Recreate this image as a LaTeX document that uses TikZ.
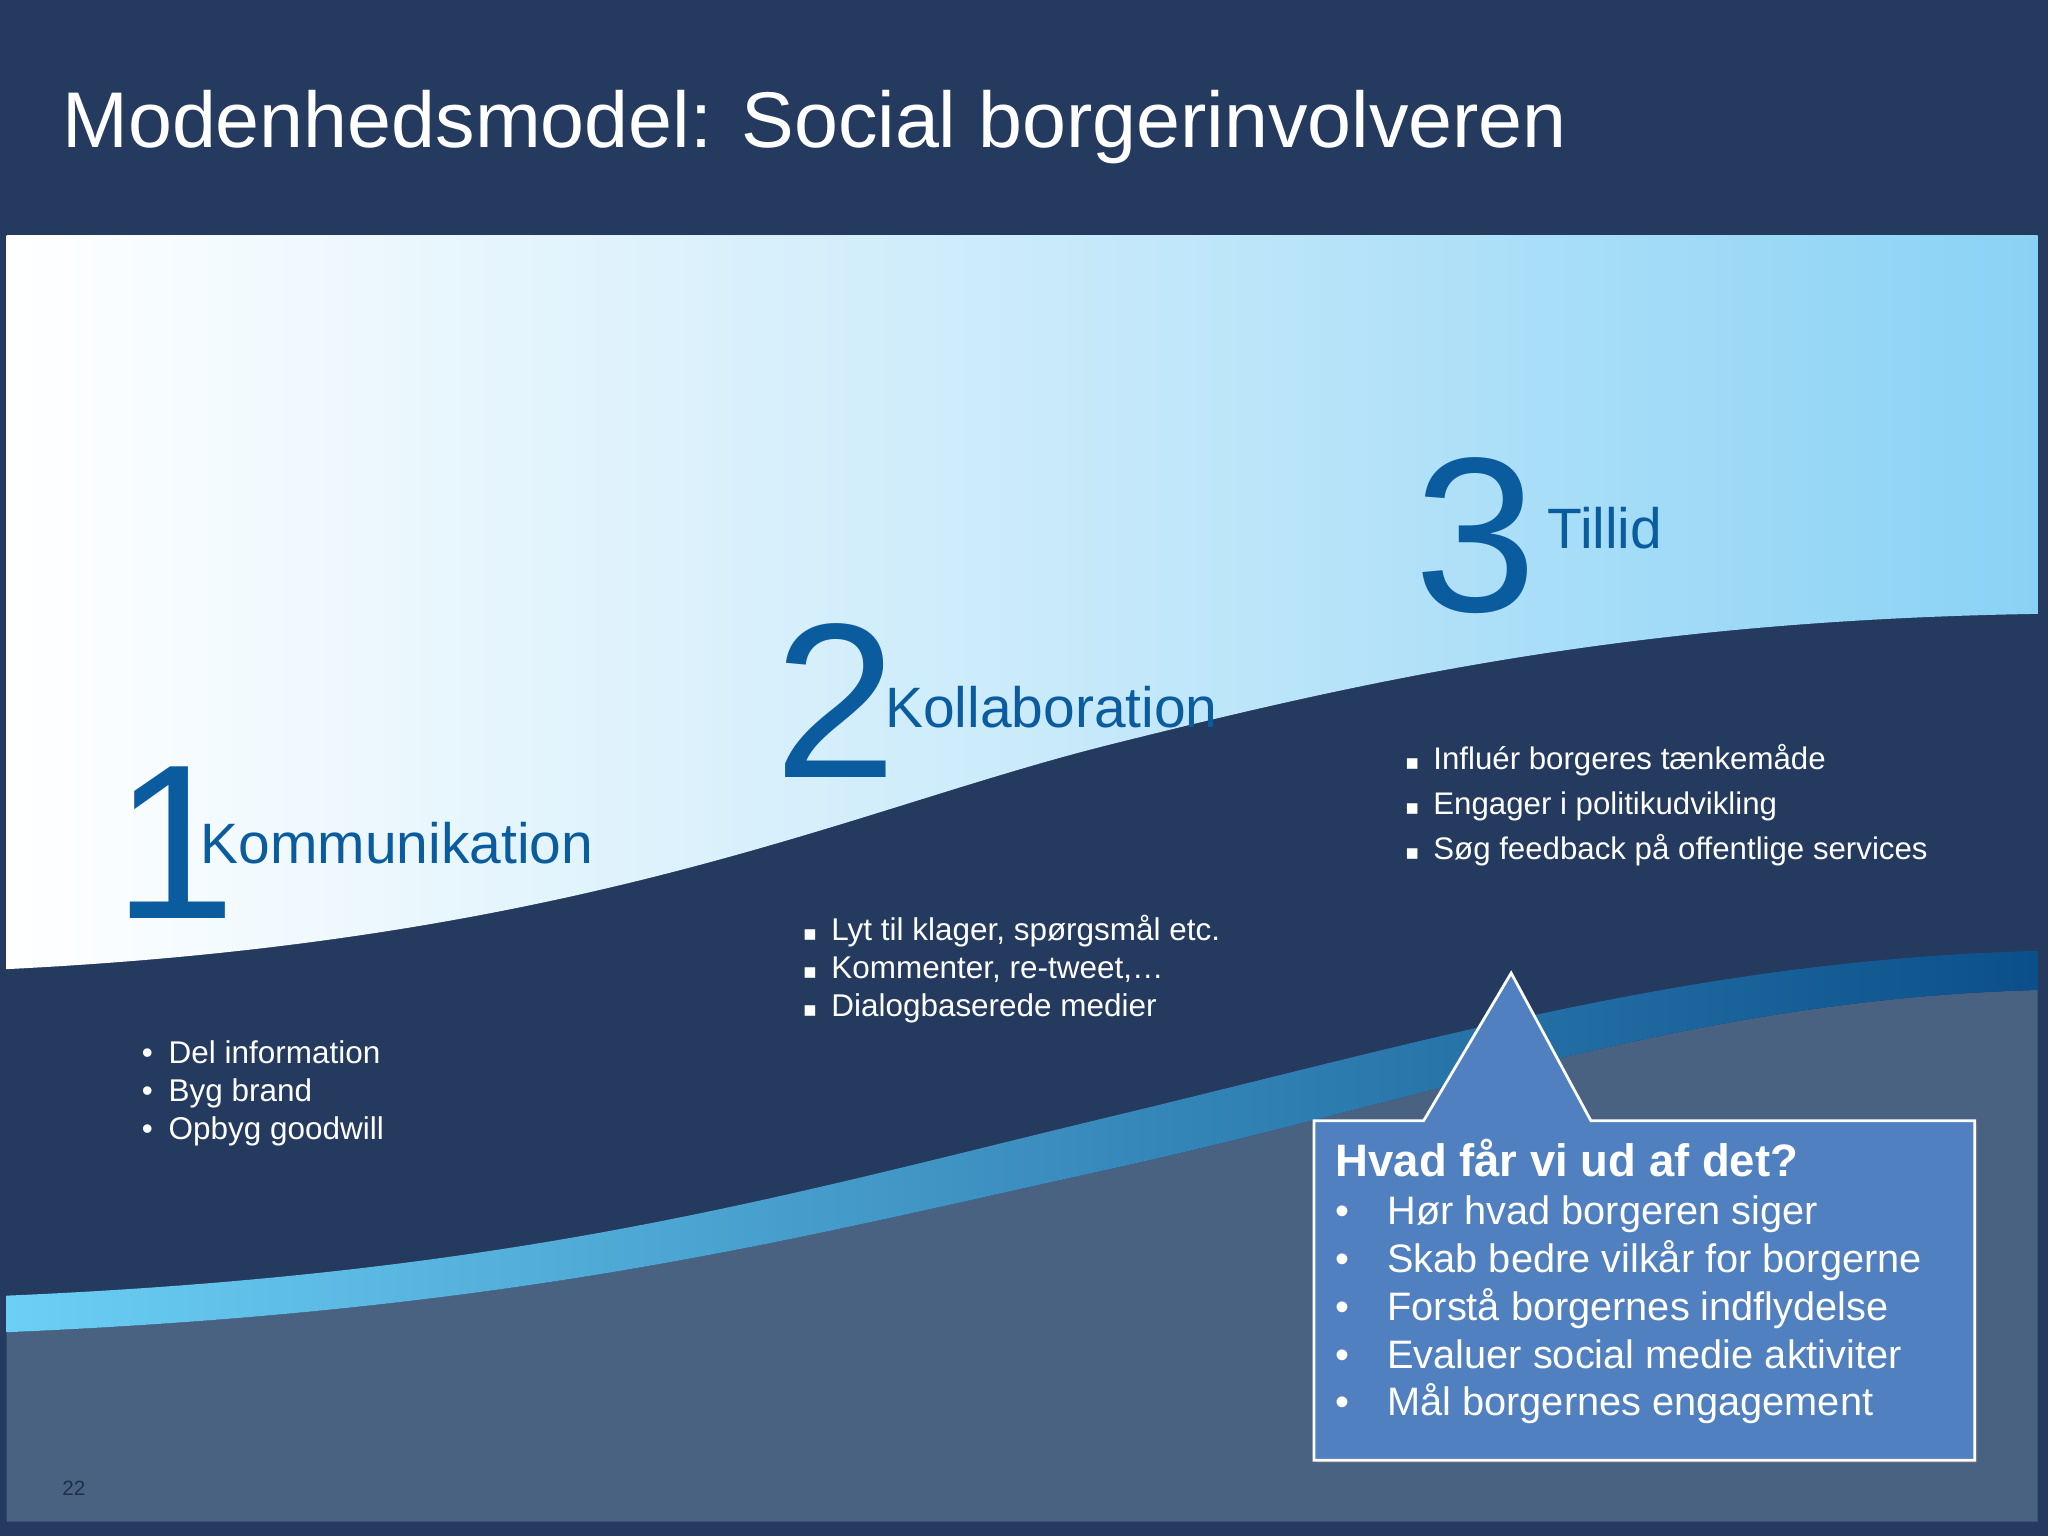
\documentclass[tikz,border=0pt]{standalone}
\usepackage{fontspec}
\setmainfont{Liberation Sans}
\newfontfamily\djv{DejaVu Sans}
\usetikzlibrary{shadows}
\definecolor{navy}{HTML}{243A5E}
\definecolor{lowgray}{HTML}{4A6282}
\definecolor{numblue}{HTML}{0A5C9E}
\definecolor{skyblue}{HTML}{8AD2F5}
\definecolor{boxblue}{HTML}{5080C0}
\definecolor{stripel}{HTML}{6CCFF5}
\definecolor{stripem}{HTML}{1AA8E0}
\definecolor{striper}{HTML}{0B4F8A}
\newcommand{\sqb}{{\djv\fontsize{4.6pt}{6pt}\selectfont ▪}\hspace{0.45em}}
\tikzset{
  bigdigit/.style={text=numblue,font=\fontsize{48pt}{48pt}\selectfont,inner sep=0pt,anchor=base west},
  stagename/.style={text=numblue,font=\fontsize{12.4pt}{13pt}\selectfont,inner sep=0pt,anchor=base west},
  bullets/.style={text=white,font=\fontsize{6.85pt}{8.3pt}\selectfont,align=left,inner sep=0pt,anchor=north west},
}
\begin{document}
\begin{tikzpicture}[x=0.01cm,y=-0.01cm]
\useasboundingbox (0,0) rectangle (1568,1176);
\fill[navy] (0,0) rectangle (1568,1176);
% lower gray-blue region
\fill[lowgray] (5,1020) .. controls (400,1003) and (600,950) .. (850,895) .. controls (1100,840) and (1300,765) .. (1560,758) -- (1560,1165) -- (5,1165) -- cycle;
% stripe
\shade[left color=stripel, middle color=stripem, right color=striper] (5,992) .. controls (400,975) and (600,915) .. (850,855) .. controls (1100,795) and (1300,735) .. (1560,728) -- (1560,758) .. controls (1300,765) and (1100,840) .. (850,895) .. controls (600,950) and (400,1003) .. (5,1020) -- cycle;
% top light panel
\shade[left color=white, right color=skyblue, middle color=skyblue!45] (5,180) -- (1560,180) -- (1560,470) .. controls (1250,475) and (1050,520) .. (850,570) .. controls (650,620) and (450,720) .. (5,742) -- cycle;
% title
\node[text=white,font=\fontsize{17.2pt}{18pt}\selectfont,anchor=base west,inner sep=0pt] (title) at (47,113) {Modenhedsmodel: Social borgerinvolveren};
% stages
\node[bigdigit] (d1) at (86,703) {1};
\node[stagename] (s1) at (153,661) {Kommunikation};
\node[bigdigit] (d2) at (592,595) {2};
\node[stagename] (s2) at (677,557) {Kollaboration};
\node[bigdigit] (d3) at (1082,468) {3};
\node[stagename] (s3) at (1184,420) {Tillid};
\node[bullets] (b1) at (108,796) {•\hspace{0.5em}Del information\\•\hspace{0.5em}Byg brand\\•\hspace{0.5em}Opbyg goodwill};
\node[bullets] (b2) at (614,700) {\sqb Lyt til klager, spørgsmål etc.\\\sqb Kommenter, re-tweet,…\\\sqb Dialogbaserede medier};
\node[bullets,font=\fontsize{6.8pt}{9.8pt}\selectfont] (b3) at (1075,569) {\sqb Influér borgeres tænkemåde\\\sqb Engager i politikudvikling\\\sqb Søg feedback på offentlige services};
% callout
\fill[boxblue,draw=white,line width=0.6pt,drop shadow={opacity=0.35,shadow xshift=0.6pt,shadow yshift=-0.6pt}] (1006,858) -- (1090,858) -- (1157,745) -- (1218,858) -- (1512,858) -- (1512,1118) -- (1006,1118) -- cycle;
\node[text=white,font=\fontsize{9.9pt}{11pt}\selectfont\bfseries,anchor=base west,inner sep=0pt] (bh) at (1022,901) {Hvad får vi ud af det?};
\node[text=white,font=\fontsize{8.65pt}{10.4pt}\selectfont,align=left,anchor=north west,inner sep=0pt] (bl) at (1022,915) {•\hspace{0.95em}Hør hvad borgeren siger\\•\hspace{0.95em}Skab bedre vilkår for borgerne\\•\hspace{0.95em}Forstå borgernes indflydelse\\•\hspace{0.95em}Evaluer social medie aktiviter\\•\hspace{0.95em}Mål borgernes engagement};
\node[text=navy!80!black,font=\fontsize{4.5pt}{5pt}\selectfont,anchor=base west,inner sep=0pt] (pg) at (47,1145) {22};
\end{tikzpicture}
\end{document}
